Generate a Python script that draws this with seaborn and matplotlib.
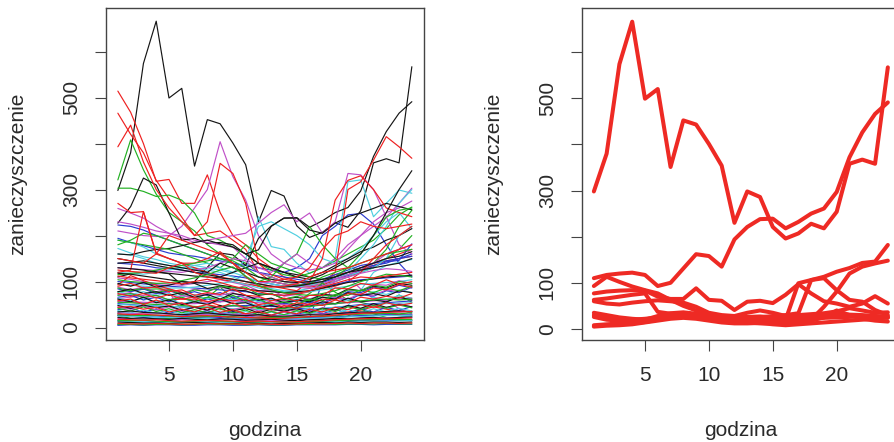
import numpy as np
import pandas as pd
import matplotlib
matplotlib.use("Agg")
import matplotlib.pyplot as plt
import seaborn as sns

# ---------------- data ----------------
hours = list(range(1, 25))

# cluster shown in right panel (also part of left panel)
clA = [298,380,574,666,499,520,351,452,443,401,354,230,298,286,221,196,207,228,218,254,358,367,358,567]
clB = [110,117,120,122,117,93,100,131,162,158,135,194,221,238,239,218,232,250,261,297,372,426,466,491]
clC = [93,113,102,92,84,77,63,50,40,33,28,25,24,23,22,22,24,26,30,32,31,30,28,27]
clD = [77,81,83,84,83,70,65,65,88,63,61,41,59,61,56,74,97,77,60,55,48,55,71,55]
clE = [30,25,22,20,22,25,28,30,30,27,25,22,20,19,18,20,99,106,113,124,132,143,146,182]
clF = [8,10,12,12,15,20,25,30,28,22,18,15,14,12,12,14,16,20,48,81,120,135,142,148]
clG = [63,66,70,74,77,37,33,32,30,28,26,20,22,25,28,30,34,106,110,84,63,59,41,30]
clH = [60,55,53,57,60,62,60,57,48,35,30,28,35,40,35,28,30,32,34,38,45,40,35,36]
clI = [26,20,18,18,20,22,25,28,25,20,18,15,18,22,20,16,15,18,25,40,30,22,18,16]
clJ = [5,7,8,10,14,18,22,24,22,18,14,12,12,13,10,8,10,12,14,16,18,20,22,25]
clK = [35,30,25,22,20,28,34,36,33,30,28,25,26,27,25,22,20,22,24,25,26,27,26,24]

# other series, left panel
L01 = [514,468,400,318,322,270,270,332,250,200,180,150,130,110,100,95,100,115,120,130,140,150,160,170]
L02 = [466,420,380,320,280,240,200,205,210,190,170,120,100,95,90,88,92,105,115,125,135,145,150,155]
L03 = [393,440,360,300,260,230,200,230,357,335,270,140,115,105,100,95,98,120,300,317,364,415,393,368]
L04 = [321,408,343,290,250,230,210,180,160,150,140,120,110,100,95,90,95,100,110,120,130,150,170,200]
L05 = [303,303,296,285,288,277,249,200,190,175,160,140,125,115,110,118,130,145,160,175,190,215,245,262]
L06 = [227,263,325,310,249,190,194,183,185,180,160,140,130,120,115,110,120,135,150,165,175,190,200,215]
L07 = [160,158,165,170,172,178,185,190,182,175,160,169,220,238,238,212,205,227,241,249,259,270,263,256]
L08 = [210,205,200,198,200,220,260,300,404,328,277,200,160,140,130,125,130,150,180,200,220,240,270,303]
L09 = [259,249,238,220,205,195,185,190,195,200,205,227,250,267,230,249,205,230,335,332,300,241,180,160]
L10 = [172,162,154,148,140,135,128,120,110,100,120,241,176,170,140,118,130,150,317,321,241,270,299,292]
L11 = [270,250,252,160,150,140,130,120,110,105,100,95,90,85,80,100,150,277,320,330,300,260,250,241]
L12 = [194,185,178,170,162,158,155,150,145,140,135,130,125,120,130,150,200,220,245,248,225,180,140,110]
L13 = [223,220,212,200,190,180,170,160,150,140,130,120,115,110,105,100,98,110,120,130,135,140,150,160]
L14 = [190,185,175,160,150,140,135,130,125,118,150,220,230,215,200,180,150,140,150,170,200,230,250,215]
L15 = [150,145,140,135,130,125,120,115,110,120,130,140,130,120,110,105,115,130,145,160,200,250,300,341]
L16 = [180,190,205,200,190,180,170,160,150,140,120,100,110,140,160,220,180,150,130,125,140,170,220,255]
L17 = [120,125,252,162,150,140,140,150,165,140,110,90,80,75,72,78,85,90,100,120,150,180,200,220]
L18 = [140,142,145,140,135,130,125,120,140,130,120,110,105,100,98,100,105,110,120,130,140,150,155,165]
L19 = [230,225,218,210,205,200,190,185,180,175,150,130,120,140,160,140,130,140,170,200,230,250,260,275]
L20 = [150,145,140,160,200,190,180,170,160,140,120,100,100,105,110,130,170,200,210,230,220,215,220,225]
L21 = [190,185,180,175,170,160,150,140,130,150,180,160,140,130,120,110,105,110,130,160,200,240,255,260]
L22 = [160,158,150,140,135,130,130,125,120,110,100,90,85,80,80,85,90,100,120,150,180,220,270,300]

ex1 = [130,128,125,120,118,115,112,110,108,105,100,95,90,88,90,95,100,110,120,125,130,135,140,150]
ex2 = [125,122,120,118,130,140,120,110,105,100,95,90,88,90,95,110,120,125,130,140,150,160,170,180]
ex3 = [115,118,120,125,130,135,140,145,150,145,130,110,100,95,92,95,110,120,130,140,150,160,165,170]
ex4 = [140,138,135,130,128,125,120,118,115,112,108,100,95,90,92,98,105,115,125,135,140,145,150,155]
ex5 = [120,118,116,120,125,130,135,140,130,120,110,100,95,90,88,92,100,110,115,120,130,150,200,220]
ex6 = [130,128,126,124,122,120,125,130,140,150,145,120,110,100,95,90,95,105,115,125,140,160,170,180]

kb1 = [118,116,112,108,104,100,98,96,92,88,84,80,78,76,78,80,86,92,98,102,106,110,112,114]
kb2 = [96,90,98,88,92,100,96,85,90,82,80,70,74,62,66,60,72,70,84,80,90,86,96,92]
kb3 = [78,84,74,78,70,76,66,72,62,74,70,60,64,54,60,56,66,62,76,70,74,68,80,76]
kb4 = [62,56,66,54,60,50,56,50,62,52,54,44,48,42,50,46,56,52,64,56,60,56,66,60]
kb5 = [48,42,49,43,47,38,44,38,48,36,42,32,40,36,41,33,42,38,48,42,52,44,50,45]
kb6 = [34,36,33,32,30,28,30,32,29,27,26,28,25,24,26,28,27,30,32,34,33,35,36,34]
kb7 = [22,20,21,19,18,20,18,17,19,18,16,17,18,16,15,17,18,20,19,21,22,20,22,23]
kb8 = [12,11,10,10,9,10,11,10,9,9,10,9,8,9,9,10,11,10,12,11,12,12,11,12]

rd1 = [112,108,105,102,98,95,100,105,98,90,84,78,72,70,74,80,88,96,104,110,108,112,116,120]
rd2 = [90,96,86,88,78,82,70,76,72,84,70,68,58,64,58,70,70,86,84,96,92,104,94,100]
rd3 = [74,68,74,64,72,62,66,56,62,58,62,50,54,44,54,50,62,60,74,72,86,82,94,88]
rd4 = [58,62,50,60,48,54,44,50,44,54,42,48,38,48,42,52,48,60,54,66,62,68,64,74]
rd5 = [44,46,40,44,34,40,34,44,33,39,30,35,27,35,30,40,34,44,39,50,44,54,48,53]
rd6 = [30,28,29,27,26,24,25,26,24,23,22,21,20,20,22,24,25,27,29,31,32,33,34,35]
rd7 = [18,17,16,17,15,14,15,16,15,14,13,14,13,12,13,14,15,17,18,19,20,19,20,21]
rd8 = [9,8,8,9,8,7,8,9,8,8,7,8,7,7,8,9,8,9,10,9,10,10,9,10]

gr1 = [104,100,98,96,97,102,108,115,125,132,112,92,82,76,72,70,74,80,90,100,108,116,114,110]
gr2 = [86,80,86,76,82,72,82,78,90,86,88,72,74,62,68,58,70,68,82,80,92,88,100,96]
gr3 = [70,74,66,70,60,66,56,66,60,70,58,62,50,56,50,62,58,72,70,82,76,86,80,90]
gr4 = [55,54,52,50,52,48,46,44,46,48,45,42,40,42,44,46,49,52,55,58,60,62,60,62]
gr5 = [42,36,45,35,41,32,39,32,42,32,38,28,35,28,37,31,41,35,45,39,48,42,49,43]
gr6 = [28,27,26,27,25,24,23,24,25,24,22,21,22,23,22,24,25,26,28,29,30,31,30,32]
gr7 = [16,15,16,14,13,13,14,15,14,13,12,12,13,12,12,13,14,15,16,17,17,18,17,18]
gr8 = [7,7,6,7,7,6,7,8,7,7,6,7,6,6,7,7,8,7,8,8,8,9,8,8]

bl1 = [100,98,95,93,90,88,86,84,82,80,78,74,72,70,74,80,88,94,100,104,106,108,110,112]
bl2 = [84,78,84,74,80,72,78,70,76,66,70,58,62,52,59,54,66,64,78,76,88,82,92,86]
bl3 = [66,70,60,66,56,64,56,62,56,66,56,60,48,54,46,56,52,64,60,72,68,80,76,88]
bl4 = [52,50,48,47,46,45,44,44,46,47,48,49,46,44,42,40,41,44,47,50,52,54,56,58]
bl5 = [39,42,34,40,31,37,30,37,28,35,26,34,27,35,28,37,30,39,32,41,34,44,37,46]
bl6 = [26,25,24,25,23,22,21,21,20,20,19,19,20,21,20,21,22,23,25,26,27,28,27,28]
bl7 = [15,14,14,13,13,12,12,12,13,12,12,11,12,12,11,12,13,14,15,15,16,16,15,16]
bl8 = [6,6,5,6,6,5,5,6,6,5,5,6,5,5,6,6,6,6,7,7,6,7,7,7]

cy1 = [94,92,90,88,86,86,88,92,96,100,94,86,80,78,76,78,82,86,90,94,96,98,100,104]
cy2 = [78,72,78,70,74,66,72,62,68,60,66,56,62,54,62,56,66,62,74,68,78,72,82,76]
cy3 = [64,58,64,56,62,52,58,52,60,52,56,46,52,42,50,44,55,50,61,56,66,60,70,64]
cy4 = [50,49,48,47,46,45,44,43,42,41,40,39,38,38,39,40,42,44,46,48,50,52,53,54]
cy5 = [37,32,38,31,37,29,36,28,36,27,35,26,34,26,35,28,37,30,39,32,41,34,42,36]
cy6 = [25,24,24,23,22,21,20,20,19,19,18,18,18,19,19,20,21,22,23,24,25,26,26,27]
cy7 = [14,13,13,12,12,11,11,11,12,11,11,10,11,11,11,12,12,13,13,14,14,14,15,15]

mg1 = [108,105,100,96,94,92,96,100,104,98,92,96,100,95,88,85,90,100,110,118,124,128,126,122]
mg2 = [88,82,88,78,84,74,84,78,88,82,92,80,82,68,72,62,72,68,82,80,94,92,102,96]
mg3 = [72,76,64,70,60,70,64,74,70,76,64,66,54,59,50,60,54,66,62,74,70,82,78,90]
mg4 = [57,56,55,54,53,52,52,54,56,58,56,54,52,50,48,48,50,52,54,56,58,60,62,64]
mg5 = [45,40,47,38,45,36,44,37,46,39,46,36,42,33,41,34,43,37,47,41,50,43,52,45]
mg6 = [32,31,30,30,29,28,28,29,30,29,28,27,26,26,27,28,29,30,31,32,33,34,34,35]
mg7 = [20,19,19,18,17,17,16,17,18,17,16,16,16,15,16,17,18,19,19,20,21,21,21,22]

# groups by colour (left panel)
grp_black = [clA, clB, L06, L07, L15, L18, ex1, kb1, kb2, kb3, kb4, kb5, kb6, kb7, kb8]
grp_red = [L01, L02, L03, L11, L17, L20, ex2, clC, clH, rd1, rd2, rd3, rd4, rd5, rd6, rd7, rd8]
grp_green = [L04, L05, L16, L21, ex3, clD, clI, gr1, gr2, gr3, gr4, gr5, gr6, gr7, gr8]
grp_blue = [L12, L13, ex4, clE, clJ, bl1, bl2, bl3, bl4, bl5, bl6, bl7, bl8]
grp_cyan = [L10, L14, L22, ex5, clF, clK, cy1, cy2, cy3, cy4, cy5, cy6, cy7]
grp_magenta = [L08, L09, L19, ex6, clG, mg1, mg2, mg3, mg4, mg5, mg6, mg7]

cluster = [clA, clB, clC, clD, clE, clF, clG, clH, clI, clJ, clK]

y_ticks = [0, 100, 200, 300, 400, 500, 600]
y_ticklabels = ["0", "100", "", "300", "", "500", ""]
x_ticks = [5, 10, 15, 20]
x_label = "godzina"
y_label = "zanieczyszczenie"

# ---------------- style ----------------
sns.set_theme(style="white")
plt.rcParams["font.family"] = ["Liberation Sans", "DejaVu Sans"]
TXT = "#2a2a2a"
FRAME = "#444444"
pal = {"black": "#151515", "red": "#ee2020", "green": "#22b022",
       "blue": "#2a3ad0", "cyan": "#50cfe0", "magenta": "#c050c8"}
groups = [("black", grp_black), ("red", grp_red), ("green", grp_green),
          ("blue", grp_blue), ("cyan", grp_cyan), ("magenta", grp_magenta)]

# interleave series like R's matplot colour cycling
order = []
maxlen = max(len(g) for _, g in groups)
for k in range(maxlen):
    for cname, g in groups:
        if k < len(g):
            order.append((cname, g[k]))

rows = []
palette_left = {}
hue_order_left = []
for i, (cname, vals) in enumerate(order):
    sid = f"s{i:03d}"
    palette_left[sid] = pal[cname]
    hue_order_left.append(sid)
    for h, v in zip(hours, vals):
        rows.append((sid, h, v))
df_left = pd.DataFrame(rows, columns=["id", "godzina", "value"])

rows = []
for i, vals in enumerate(cluster):
    for h, v in zip(hours, vals):
        rows.append((f"c{i:02d}", h, v))
df_right = pd.DataFrame(rows, columns=["id", "godzina", "value"])

W, H = 895, 442
fig = plt.figure(figsize=(W / 100, H / 100), dpi=100)
ax_w = 317.5 / W
ax_h = 331.7 / H
ax_b = (H - 340) / H
ax1 = fig.add_axes([106.1 / W, ax_b, ax_w, ax_h])
ax2 = fig.add_axes([582.1 / W, ax_b, ax_w, ax_h])

sns.lineplot(data=df_left, x="godzina", y="value", hue="id", hue_order=hue_order_left,
             palette=palette_left, estimator=None, legend=False, linewidth=0.85,
             ax=ax1)
sns.lineplot(data=df_right, x="godzina", y="value", hue="id",
             palette=["#ee2a24"] * len(cluster), estimator=None, legend=False,
             linewidth=2.9, ax=ax2)

for ax, ylim in ((ax1, (-27, 694)), (ax2, (-24, 695))):
    ax.set_xlim(1 - 0.04 * 23, 24 + 0.04 * 23)
    ax.set_ylim(*ylim)
    ax.set_xticks(x_ticks)
    ax.set_xticklabels([str(t) for t in x_ticks])
    ax.set_yticks(y_ticks)
    ax.set_yticklabels(y_ticklabels)
    for s in ax.spines.values():
        s.set_visible(True)
        s.set_color(FRAME)
        s.set_linewidth(1.0)
    ax.tick_params(axis="both", direction="out", length=8, width=0.8, color=FRAME,
                   labelsize=15, labelcolor=TXT, bottom=True, left=True)
    ax.tick_params(axis="x", pad=10.7)
    ax.tick_params(axis="y", pad=10.2)
    for lab in ax.get_yticklabels():
        lab.set_rotation(90)
        lab.set_va("center")
        lab.set_ha("right")
    ax.set_xlabel(x_label, fontsize=15, color=TXT, va="baseline")
    ax.set_ylabel(y_label, fontsize=15, color=TXT, va="center")
    ax.xaxis.set_label_coords(0.5, -0.2894)
    ax.yaxis.set_label_coords(-0.278, 0.5)
    ax.grid(False)
    ax.set_facecolor("white")

fig.savefig("out.png", dpi=100, facecolor="white")
